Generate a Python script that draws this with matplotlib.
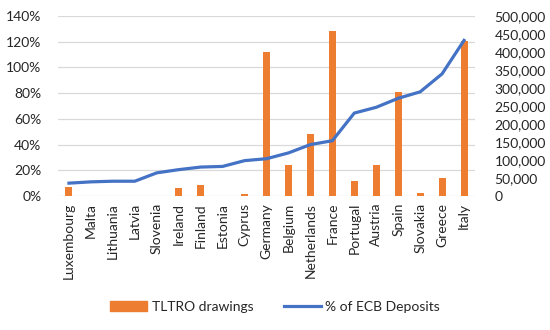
import matplotlib
matplotlib.use("Agg")
import matplotlib.pyplot as plt
from matplotlib.ticker import FuncFormatter

plt.rcParams['font.family'] = ['Lato', 'DejaVu Sans']

countries = ['Luxembourg', 'Malta', 'Lithuania', 'Latvia', 'Slovenia', 'Ireland',
             'Finland', 'Estonia', 'Cyprus', 'Germany', 'Belgium', 'Netherlands',
             'France', 'Portugal', 'Austria', 'Spain', 'Slovakia', 'Greece', 'Italy']
tltro = [25000, 0, 1000, 0, 0, 22000, 31500, 600, 5500, 400000, 85000, 171000,
         457000, 41000, 86000, 288000, 9500, 49000, 430000]
ecb_pct = [10, 11, 11.5, 11.5, 18, 20.5, 22.5, 23, 27.5, 29, 33.5, 40,
           43, 64.5, 69, 76, 81, 95, 121]

orange = '#ED7D31'
blue = '#4472C4'
grid_c = '#D9D9D9'
txt = '#262626'

fig = plt.figure(figsize=(5.5, 3.3), dpi=100)
ax2 = fig.add_axes([58/550, 1-196/330, 417/550, 180/330])
ax = ax2.twinx()

x = list(range(len(countries)))

# bars on right scale, drawn below the line
ax2.set_ylim(0, 500000)
for p in range(0, 141, 20):
    ax2.axhline(p * 500000 / 140, color=grid_c, lw=0.9, zorder=0)
ax2.bar(x, tltro, width=0.32, color=orange, zorder=2)
ax2.yaxis.tick_right()
ax2.set_yticks(range(0, 500001, 50000))
ax2.yaxis.set_major_formatter(FuncFormatter(lambda v, _: f'{v:,.0f}'))

# line on left scale
ax.set_zorder(ax2.get_zorder() + 1)
ax.patch.set_visible(False)
ax.plot(x, ecb_pct, color=blue, lw=2.3, zorder=3)
ax.set_ylim(0, 140)
ax.yaxis.tick_left()
ax.set_yticks(range(0, 141, 20))
ax.yaxis.set_major_formatter(FuncFormatter(lambda v, _: f'{v:.0f}%'))

ax2.set_xlim(-0.5, len(countries) - 0.5)
ax2.set_xticks(x)
ax2.set_xticklabels(countries, rotation=90, fontsize=10, color=txt)

for a in (ax, ax2):
    for s in a.spines.values():
        s.set_visible(False)
    a.tick_params(length=0, labelsize=10, colors=txt)
ax.tick_params(axis='y', pad=12)
ax2.tick_params(axis='y', pad=14)
ax2.tick_params(axis='x', pad=5)

h1 = plt.Rectangle((0, 0), 1, 1, color=orange)
h2 = plt.Line2D([], [], color=blue, lw=2.3)
fig.legend([h1, h2], ['TLTRO drawings', '% of ECB Deposits'], loc='center',
           bbox_to_anchor=(0.5, 1-307/330), ncol=2, frameon=False, fontsize=10,
           labelcolor=txt, handlelength=2.7, handleheight=0.7, handletextpad=0.3,
           columnspacing=2.2)

fig.savefig('out.png', dpi=100)
